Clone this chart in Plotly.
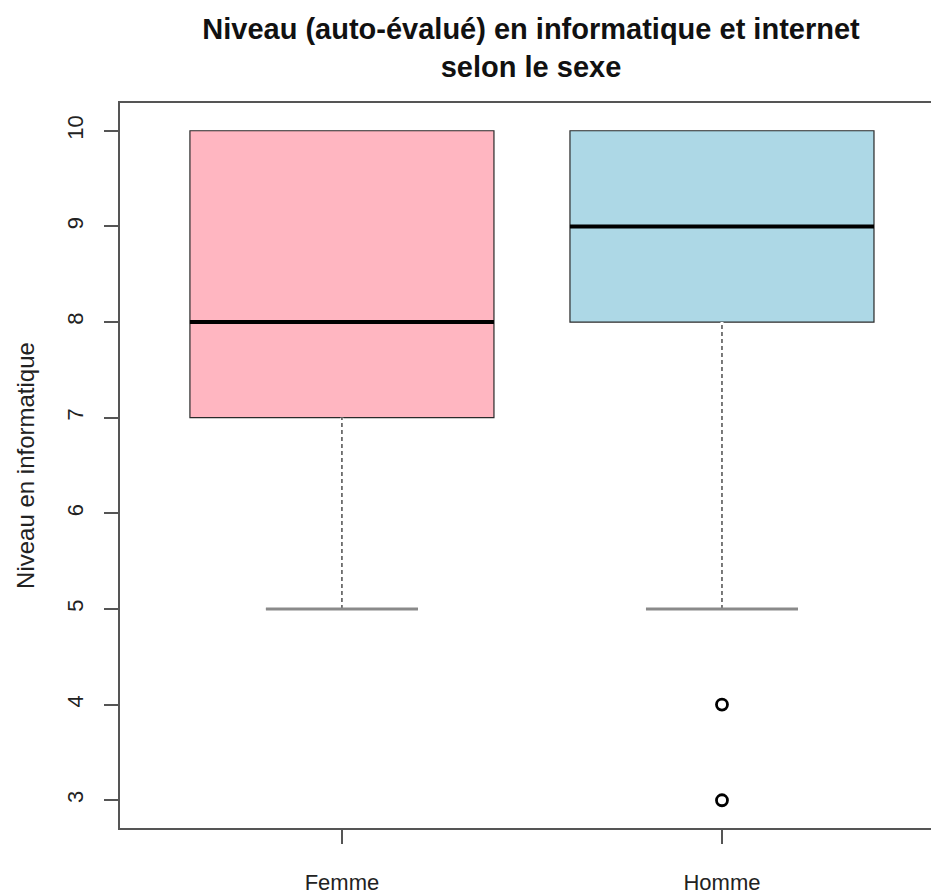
import plotly.graph_objects as go

groups = ["Femme", "Homme"]
positions = [1, 2]
q1 = [7, 8]
median = [8, 9]
q3 = [10, 10]
lower_fence = [5, 5]
upper_fence = [10, 10]
fill_colors = ["#FFB6C1", "#ADD8E6"]
outlier_group = [2, 2]
outlier_values = [4, 3]
y_ticks = [3, 4, 5, 6, 7, 8, 9, 10]

box_w = 0.8
fig = go.Figure()

for i, g in enumerate(groups):
    fig.add_trace(go.Box(
        x=[positions[i]], q1=[q1[i]], median=[median[i]], q3=[q3[i]],
        lowerfence=[lower_fence[i]], upperfence=[upper_fence[i]],
        width=box_w, whiskerwidth=0.5, fillcolor=fill_colors[i],
        line=dict(color="#2a2a2a", width=1.2), name=g, boxpoints=False,
        hoverinfo="skip"))

for i, g in enumerate(groups):
    p = positions[i]
    # cover plotly's solid whisker and draw an R-style dashed whisker
    fig.add_trace(go.Scatter(x=[p, p], y=[lower_fence[i], q1[i]], mode="lines",
                             line=dict(color="white", width=3), hoverinfo="skip"))
    fig.add_trace(go.Scatter(x=[p, p], y=[lower_fence[i], q1[i]], mode="lines",
                             line=dict(color="#222222", width=1.2, dash="4px,3px"), hoverinfo="skip"))
    # whisker cap
    fig.add_trace(go.Scatter(x=[p - box_w / 4, p + box_w / 4], y=[lower_fence[i]] * 2, mode="lines",
                             line=dict(color="#8a8a8a", width=3), hoverinfo="skip"))
    # median
    fig.add_trace(go.Scatter(x=[p - box_w / 2, p + box_w / 2], y=[median[i]] * 2, mode="lines",
                             line=dict(color="black", width=4), hoverinfo="skip"))

fig.add_trace(go.Scatter(x=outlier_group, y=outlier_values, mode="markers",
                         marker=dict(symbol="circle-open", size=11, color="black",
                                     line=dict(width=2.8, color="black")),
                         hoverinfo="skip"))

fig.update_layout(
    width=931, height=895,
    margin=dict(l=120, r=0, t=103, b=57),
    paper_bgcolor="white", plot_bgcolor="white",
    showlegend=False,
    font=dict(family="Liberation Sans, Arial, sans-serif", color="#222222"),
    title=dict(
        text="Niveau (auto-évalué) en informatique et internet<br>selon le sexe",
        x=531 / 931, xanchor="center", xref="container",
        y=1 - 39 / 895, yanchor="middle", yref="container",
        font=dict(size=29, family="Liberation Sans, Arial, sans-serif", color="#111111", weight="bold"),
    ),
    xaxis=dict(
        range=[0.416, 2.55], tickvals=positions, ticktext=groups,
        showgrid=False, zeroline=False, showline=True, mirror=True,
        linecolor="#555555", linewidth=2, ticks="outside", ticklen=14,
        tickcolor="#555555", tickwidth=2, ticklabelstandoff=20,
        tickfont=dict(size=22, color="#222222"),
    ),
    yaxis=dict(
        range=[2.71, 10.29], tickvals=y_ticks,
        showgrid=False, zeroline=False, showline=True, mirror=False,
        linecolor="#555555", linewidth=2, ticks="outside", ticklen=14,
        tickcolor="#555555", tickwidth=2, tickangle=-90, ticklabelstandoff=12,
        tickfont=dict(size=22, color="#222222"),
        title=dict(text="Niveau en informatique", standoff=22, font=dict(size=24, color="#222222")),
    ),
)

fig.write_html("out.html", config={"displayModeBar": False},
               post_script="document.body.style.margin='0';document.body.style.overflow='hidden';")
